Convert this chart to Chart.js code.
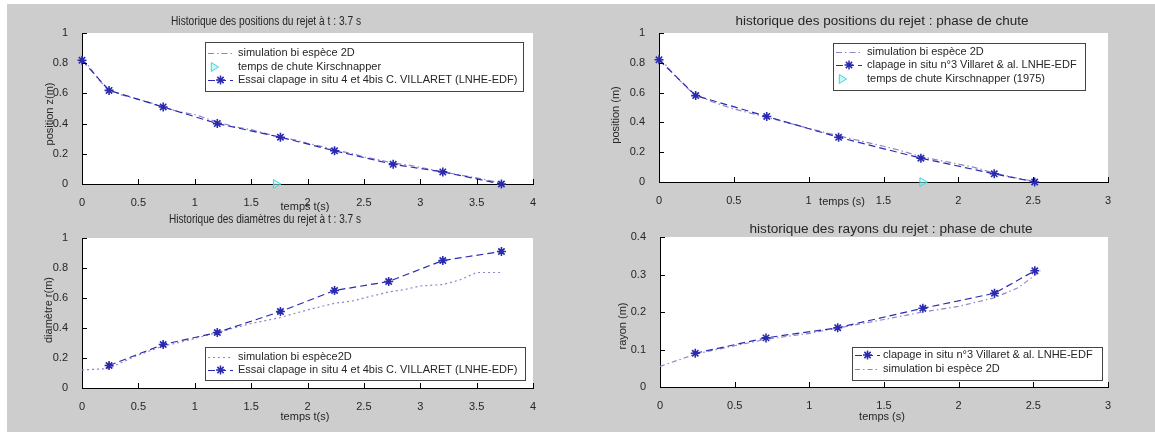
<!DOCTYPE html>
<html><head><meta charset="utf-8">
<script src="https://cdn.jsdelivr.net/npm/chart.js@4.4.1/dist/chart.umd.min.js"></script>
<style>
html,body{margin:0;padding:0;background:#fff;}
#fig{position:relative;width:1155px;height:432px;overflow:hidden;background:#fff;}
#bg{position:absolute;left:7px;top:4px;width:1148px;height:428px;background:#cdcdcd;}
canvas{position:absolute;left:0;top:0;}
</style></head><body>
<div id="fig"><div id="bg"></div>
<canvas id="c1" width="1155" height="432"></canvas>
<canvas id="c2" width="1155" height="432"></canvas>
<canvas id="c3" width="1155" height="432"></canvas>
<canvas id="c4" width="1155" height="432"></canvas>
</div>
<script>
// ---------- data ----------
// tick labels
const xTicks4 = [0, 0.5, 1, 1.5, 2, 2.5, 3, 3.5, 4];
const xTicks3 = [0, 0.5, 1, 1.5, 2, 2.5, 3];
const yTicks1 = [0, 0.2, 0.4, 0.6, 0.8, 1];
const yTicks04 = [0, 0.1, 0.2, 0.3, 0.4];

// top-left: positions (t = 3.7 s)
const posExpT_L = [0, 0.24, 0.72, 1.2, 1.76, 2.24, 2.76, 3.2, 3.72];
const posExpZ_L = [0.82, 0.62, 0.51, 0.40, 0.31, 0.22, 0.13, 0.08, 0.0];
const posSimT_L = [0, 0.05, 0.1, 0.15, 0.2, 0.25, 0.35, 0.5, 0.6, 0.72, 0.85, 1.0, 1.2, 1.35, 1.5, 1.65, 1.76, 1.9, 2.0, 2.15, 2.25, 2.4, 2.5, 2.6, 2.75, 2.9, 3.0, 3.1, 3.2, 3.35, 3.5, 3.6, 3.72];
const posSimZ_L = [0.83, 0.79, 0.74, 0.69, 0.65, 0.62, 0.59, 0.56, 0.54, 0.51, 0.48, 0.46, 0.41, 0.38, 0.36, 0.33, 0.31, 0.29, 0.27, 0.245, 0.225, 0.20, 0.18, 0.165, 0.14, 0.125, 0.11, 0.095, 0.08, 0.06, 0.04, 0.025, 0.005];
const kirschT_L = [1.72];
const kirschZ_L = [0];

// top-right: positions (phase de chute)
const posExpT_R = [0, 0.245, 0.72, 1.2, 1.75, 2.24, 2.51];
const posExpZ_R = [0.82, 0.58, 0.44, 0.30, 0.16, 0.055, 0.0];
const posSimT_R = [0, 0.05, 0.1, 0.15, 0.2, 0.245, 0.35, 0.5, 0.6, 0.72, 0.85, 1.0, 1.1, 1.2, 1.35, 1.5, 1.6, 1.75, 1.9, 2.0, 2.1, 2.24, 2.35, 2.45, 2.52];
const posSimZ_R = [0.83, 0.78, 0.72, 0.67, 0.62, 0.585, 0.54, 0.49, 0.465, 0.435, 0.40, 0.36, 0.335, 0.31, 0.275, 0.24, 0.215, 0.17, 0.14, 0.12, 0.10, 0.06, 0.035, 0.015, 0.0];
const kirschT_R = [1.76];
const kirschZ_R = [0];

// bottom-left: diameters (t = 3.7 s)
const diaExpT = [0.24, 0.72, 1.2, 1.76, 2.24, 2.72, 3.2, 3.72];
const diaExpD = [0.15, 0.29, 0.37, 0.51, 0.65, 0.71, 0.85, 0.91];
const diaSimT = [0, 0.24, 0.35, 0.5, 0.72, 0.9, 1.0, 1.2, 1.4, 1.5, 1.76, 1.9, 2.0, 2.24, 2.4, 2.5, 2.72, 2.85, 3.0, 3.2, 3.35, 3.5, 3.72];
const diaSimD = [0.12, 0.13, 0.17, 0.22, 0.28, 0.31, 0.33, 0.37, 0.41, 0.43, 0.47, 0.50, 0.52, 0.565, 0.58, 0.60, 0.64, 0.655, 0.68, 0.69, 0.72, 0.77, 0.77];

// bottom-right: radii (phase de chute)
const rayExpT = [0.236, 0.71, 1.19, 1.76, 2.24, 2.51];
const rayExpR = [0.09, 0.131, 0.158, 0.21, 0.25, 0.31];
const raySimT = [0, 0.24, 0.5, 0.72, 1.0, 1.2, 1.5, 1.76, 2.0, 2.24, 2.4, 2.55];
const raySimR = [0.055, 0.088, 0.11, 0.128, 0.143, 0.158, 0.18, 0.20, 0.215, 0.238, 0.265, 0.31];

// ---------- styling ----------
const FONT = '"Liberation Sans", Arial, sans-serif';
const BLUE = '#2a2ab0';
const SIM = '#8f86c8';
const CYAN = '#45d6d6';
const TXT = '#262626';
const W = 1155, H = 432, YW = 40, XH = 22;

function pts(xs, ys) { return xs.map((x, i) => ({x: x, y: ys[i]})); }

function expSet(label, xs, ys) {
  return {label, data: pts(xs, ys), showLine: true, borderColor: BLUE, borderWidth: 1.2,
    borderDash: [7, 4], pointStyle: 'star', pointRadius: 4.5, pointBorderColor: BLUE,
    pointBorderWidth: 1.6, pointBackgroundColor: BLUE, clip: false, tension: 0,
    _leg: {dash: [7, 4], marker: 'star', color: BLUE}};
}
function simSet(label, xs, ys, dash) {
  return {label, data: pts(xs, ys), showLine: true, borderColor: SIM, borderWidth: 1.2,
    borderDash: dash, pointRadius: 0, clip: false, tension: 0,
    _leg: {dash: dash, marker: null, color: SIM}};
}
function kirSet(label, xs, ys) {
  return {label, data: pts(xs, ys), showLine: false, pointStyle: 'triangle', rotation: 90,
    pointRadius: 5, pointBorderColor: CYAN, pointBackgroundColor: 'rgba(160,240,240,0.55)',
    pointBorderWidth: 1, clip: false,
    _leg: {dash: null, marker: 'tri', color: CYAN}};
}

function txt(ctx, s, x, y, o) {
  o = o || {};
  ctx.save();
  ctx.translate(x, y);
  if (o.rot) ctx.rotate(o.rot);
  ctx.font = (o.size || 11) + 'px ' + FONT;
  ctx.textAlign = o.align || 'center';
  ctx.textBaseline = 'middle';
  ctx.fillStyle = TXT;
  if (o.w) { const m = ctx.measureText(s).width; ctx.scale(o.w / m, 1); }
  ctx.fillText(s, 0, 0);
  ctx.restore();
}

function marker(ctx, type, x, y, r, color) {
  ctx.save();
  ctx.strokeStyle = color; ctx.lineWidth = 1.5; ctx.setLineDash([]);
  ctx.beginPath();
  if (type === 'star') {
    ctx.moveTo(x - r, y); ctx.lineTo(x + r, y);
    ctx.moveTo(x, y - r); ctx.lineTo(x, y + r);
    const d = r * 0.7;
    ctx.moveTo(x - d, y - d); ctx.lineTo(x + d, y + d);
    ctx.moveTo(x - d, y + d); ctx.lineTo(x + d, y - d);
    ctx.stroke();
  } else if (type === 'tri') {
    ctx.lineWidth = 1;
    ctx.moveTo(x + r, y); ctx.lineTo(x - r * 0.6, y - r); ctx.lineTo(x - r * 0.6, y + r); ctx.closePath();
    ctx.fillStyle = 'rgba(160,240,240,0.55)'; ctx.fill(); ctx.stroke();
  }
  ctx.restore();
}

function deco(spec) {
  return {
    id: 'deco',
    beforeDraw(chart) {
      const a = chart.chartArea, ctx = chart.ctx;
      ctx.save(); ctx.fillStyle = '#fff';
      ctx.fillRect(a.left, a.top, a.right - a.left, a.bottom - a.top);
      ctx.restore();
    },
    afterDraw(chart) {
      const a = chart.chartArea, ctx = chart.ctx;
      ctx.save();
      ctx.strokeStyle = '#000'; ctx.lineWidth = 1; ctx.setLineDash([]);
      ctx.beginPath();
      chart.scales.x.ticks.forEach(t => {
        const px = Math.round(chart.scales.x.getPixelForValue(t.value)) + 0.5;
        ctx.moveTo(px, a.bottom); ctx.lineTo(px, a.bottom - 5);
      });
      chart.scales.y.ticks.forEach(t => {
        const py = Math.round(chart.scales.y.getPixelForValue(t.value)) + 0.5;
        ctx.moveTo(a.left, py); ctx.lineTo(a.left + 5, py);
      });
      ctx.stroke();
      ctx.restore();
      // texts
      txt(ctx, spec.title, spec.titlePos[0], spec.titlePos[1], {size: 12, w: spec.titleW});
      txt(ctx, spec.xlabel, spec.xlPos[0], spec.xlPos[1], {size: 11});
      txt(ctx, spec.ylabel, spec.ylPos[0], spec.ylPos[1], {size: 11, rot: -Math.PI / 2});
      // legend
      const L = spec.legend, b = L.box;
      ctx.save();
      ctx.fillStyle = '#fff';
      ctx.fillRect(b[0], b[1], b[2] - b[0], b[3] - b[1]);
      ctx.strokeStyle = '#444'; ctx.lineWidth = 1;
      ctx.strokeRect(b[0] + 0.5, b[1] + 0.5, b[2] - b[0], b[3] - b[1]);
      ctx.restore();
      L.order.forEach((di, k) => {
        const ds = chart.data.datasets[di], lg = ds._leg, y = L.rows[k];
        if (lg.dash) {
          ctx.save(); ctx.strokeStyle = lg.color; ctx.lineWidth = 1.2; ctx.setLineDash(lg.dash);
          ctx.beginPath(); ctx.moveTo(L.sx0, y + 0.5); ctx.lineTo(L.sx1, y + 0.5); ctx.stroke(); ctx.restore();
        }
        if (lg.marker) marker(ctx, lg.marker, lg.marker === 'tri' ? L.sx0 + 6 : (L.sx0 + L.sx1) / 2, y, 4.5, lg.color);
        txt(ctx, ds.label, L.tx, y, {size: 11, align: 'left'});
      });
    }
  };
}

function fmt(v) { return String(Math.round(v * 100) / 100); }

function makeChart(id, spec) {
  const a = spec.area;
  const axisCommon = {
    type: 'linear',
    grid: {display: false},
    border: {display: true, color: '#000', width: 1},
  };
  new Chart(document.getElementById(id), {
    type: 'scatter',
    data: {datasets: spec.datasets},
    options: {
      responsive: false, animation: false, devicePixelRatio: 1,
      layout: {padding: {left: a.l - YW, top: a.t, right: W - a.r, bottom: H - a.b - XH}},
      plugins: {legend: {display: false}, tooltip: {enabled: false}, title: {display: false}},
      events: [],
      scales: {
        x: Object.assign({}, axisCommon, {
          min: spec.xr[0], max: spec.xr[1],
          afterBuildTicks: s => { s.ticks = spec.xt.map(v => ({value: v})); },
          afterFit: s => { s.height = XH; },
          ticks: {callback: fmt, autoSkip: false, maxRotation: 0, padding: 4, color: TXT,
                  font: {family: FONT, size: 11}}
        }),
        y: Object.assign({}, axisCommon, {
          min: spec.yr[0], max: spec.yr[1],
          afterBuildTicks: s => { s.ticks = spec.yt.map(v => ({value: v})); },
          afterFit: s => { s.width = YW; },
          ticks: {callback: fmt, autoSkip: false, padding: 6, color: TXT,
                  font: {family: FONT, size: 11}}
        })
      }
    },
    plugins: [deco(spec)]
  });
}

const LBL_SIM = 'simulation bi espèce 2D';
const LBL_KIR = 'temps de chute Kirschnapper';
const LBL_EXP_L = 'Essai clapage in situ 4 et 4bis C. VILLARET (LNHE-EDF)';
const LBL_EXP_R = 'clapage in situ n°3 Villaret & al. LNHE-EDF';

makeChart('c1', {
  area: {l: 82, t: 33, r: 533, b: 184}, xr: [0, 4], yr: [0, 1], xt: xTicks4, yt: yTicks1,
  datasets: [expSet(LBL_EXP_L, posExpT_L, posExpZ_L), kirSet(LBL_KIR, kirschT_L, kirschZ_L),
             simSet(LBL_SIM, posSimT_L, posSimZ_L, [6, 3, 1.5, 3])],
  title: 'Historique des positions du rejet à t : 3.7 s', titlePos: [266, 22], titleW: 190,
  xlabel: 'temps t(s)', xlPos: [305, 207], ylabel: 'position z(m)', ylPos: [50, 114],
  legend: {box: [205, 42, 523, 91], rows: [53, 67, 80], sx0: 208, sx1: 233, tx: 238, order: [2, 1, 0]}
});
makeChart('c2', {
  area: {l: 659, t: 33, r: 1108, b: 182}, xr: [0, 3], yr: [0, 1], xt: xTicks3, yt: yTicks1,
  datasets: [expSet(LBL_EXP_R, posExpT_R, posExpZ_R), kirSet(LBL_KIR + ' (1975)', kirschT_R, kirschZ_R),
             simSet(LBL_SIM, posSimT_R, posSimZ_R, [6, 3, 1.5, 3])],
  title: 'historique des positions du rejet : phase de chute', titlePos: [882, 22], titleW: 293,
  xlabel: 'temps (s)', xlPos: [842, 202], ylabel: 'position (m)', ylPos: [616, 115],
  legend: {box: [833, 43, 1085, 90], rows: [52, 65, 79], sx0: 836, sx1: 862, tx: 867, order: [2, 0, 1]}
});
makeChart('c3', {
  area: {l: 82, t: 238, r: 533, b: 388}, xr: [0, 4], yr: [0, 1], xt: xTicks4, yt: yTicks1,
  datasets: [expSet(LBL_EXP_L, diaExpT, diaExpD), simSet('simulation bi espèce2D', diaSimT, diaSimD, [2, 3])],
  title: 'Historique des diamètres du rejet à t : 3.7 s', titlePos: [265, 220], titleW: 192,
  xlabel: 'temps t(s)', xlPos: [305, 417], ylabel: 'diamètre r(m)', ylPos: [49, 310],
  legend: {box: [205, 347, 525, 380], rows: [357, 370], sx0: 208, sx1: 233, tx: 238, order: [1, 0]}
});
makeChart('c4', {
  area: {l: 660, t: 237, r: 1108, b: 387}, xr: [0, 3], yr: [0, 0.4], xt: xTicks3, yt: yTicks04,
  datasets: [expSet(LBL_EXP_R, rayExpT, rayExpR), simSet(LBL_SIM, raySimT, raySimR, [5, 3, 1.5, 3])],
  title: 'historique des rayons du rejet : phase de chute', titlePos: [891, 230], titleW: 283,
  xlabel: 'temps (s)', xlPos: [882, 417], ylabel: 'rayon (m)', ylPos: [623, 326],
  legend: {box: [852, 347, 1102, 380], rows: [355, 369], sx0: 855, sx1: 880, tx: 883, order: [0, 1]}
});
</script>
</body></html>
